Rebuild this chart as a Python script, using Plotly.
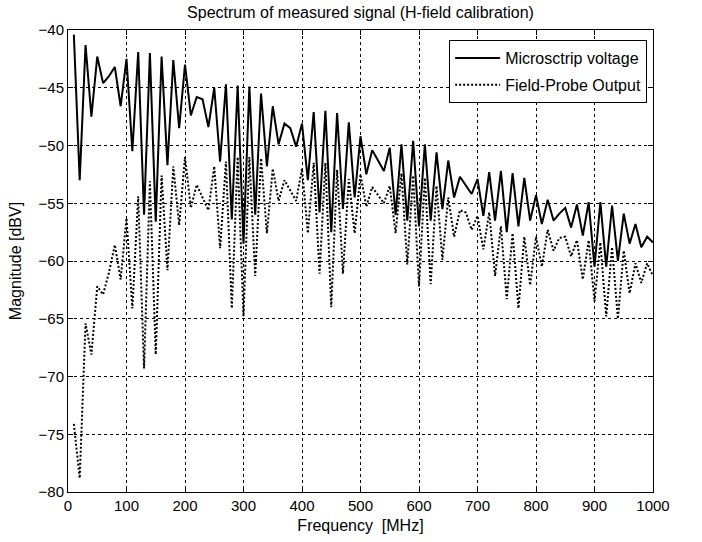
import plotly.graph_objects as go

# Frequency axis (MHz), one sample every 10 MHz
freq_mhz = list(range(10, 1001, 10))

# Microstrip voltage spectrum [dBV]
microstrip_dbv = [
    -40.4, -53.0, -41.3, -47.5, -42.3, -44.6, -44.0, -43.2, -46.6, -42.5,
    -50.5, -41.9, -56.0, -42.0, -56.6, -42.3, -51.7, -42.6, -48.5, -43.0,
    -47.4, -45.8, -46.0, -48.4, -45.0, -51.4, -44.7, -56.4, -44.8, -58.5,
    -44.9, -56.0, -45.5, -51.8, -46.6, -49.9, -48.1, -48.5, -50.1, -48.1,
    -53.0, -47.1, -55.8, -47.0, -57.5, -47.2, -55.5, -48.0, -54.5, -49.2,
    -52.5, -50.4, -51.3, -52.2, -50.2, -56.0, -49.9, -56.5, -49.6, -57.0,
    -49.9, -56.5, -50.6, -55.5, -51.3, -54.5, -52.7, -53.5, -54.2, -52.9,
    -56.1, -52.3, -56.5, -52.2, -57.5, -52.4, -57.0, -52.8, -56.5, -54.3,
    -56.8, -54.7, -56.5, -55.9, -55.4, -57.1, -55.1, -57.8, -54.9, -60.5,
    -54.9, -60.5, -55.2, -60.0, -55.9, -58.5, -56.8, -58.8, -57.9, -58.4,
]

# Field-probe output spectrum [dBV]
probe_dbv = [
    -74.1, -78.8, -65.4, -68.1, -62.2, -62.9, -61.0, -58.6, -61.6, -56.3,
    -64.1, -54.4, -69.3, -53.1, -68.1, -52.6, -60.8, -51.8, -56.9, -51.0,
    -55.4, -53.4, -54.5, -55.6, -51.8, -58.9, -51.4, -64.1, -51.0, -64.8,
    -51.0, -61.3, -51.1, -57.6, -52.0, -54.8, -53.0, -53.9, -54.8, -52.0,
    -57.6, -51.5, -61.1, -51.5, -64.0, -52.1, -61.1, -52.9, -57.6, -52.5,
    -55.3, -53.6, -54.3, -55.0, -53.5, -57.6, -52.4, -60.3, -52.6, -62.2,
    -52.8, -62.0, -53.5, -59.9, -54.5, -57.9, -55.6, -55.8, -57.3, -56.1,
    -59.0, -55.8, -61.3, -57.0, -63.3, -57.6, -64.1, -57.9, -62.1, -57.9,
    -60.5, -57.3, -59.1, -58.0, -57.9, -59.6, -58.2, -61.6, -58.2, -63.5,
    -58.4, -64.8, -58.8, -65.0, -59.1, -62.8, -60.2, -61.9, -60.2, -61.3,
]

FONT = "Liberation Sans, Arial, sans-serif"
TXT = dict(family=FONT, size=16, color="black")

fig = go.Figure()
fig.add_trace(go.Scatter(x=freq_mhz, y=microstrip_dbv, mode="lines",
                         name="Microsctrip voltage", legendgroup="a",
                         line=dict(color="black", width=2)))
fig.add_trace(go.Scatter(x=freq_mhz, y=probe_dbv, mode="lines",
                         name="Field-Probe Output", legendgroup="b",
                         line=dict(color="black", width=2, dash="2px,2px")))

axis_style = dict(showline=True, linecolor="black", linewidth=1, mirror="ticks",
                  ticks="inside", ticklen=5, tickcolor="black",
                  showgrid=True, gridcolor="black", gridwidth=1, griddash="3px,3px",
                  zeroline=False, automargin=False,
                  tickfont=dict(family=FONT, size=15, color="black"))

fig.update_xaxes(range=[0, 1000], dtick=100, tick0=0,
                 title=dict(text="Frequency  [MHz]", standoff=6, font=TXT),
                 **axis_style)
fig.update_yaxes(range=[-80, -40], dtick=5, tick0=-80,
                 title=dict(text="Magnitude [dBV]", standoff=12, font=TXT),
                 **axis_style)

fig.update_layout(
    width=702, height=542,
    margin=dict(l=68, r=49, t=30, b=50),
    paper_bgcolor="white", plot_bgcolor="white",
    font=TXT,
    title=dict(text="Spectrum of measured signal (H-field calibration)",
               x=0.5, xref="paper", y=0.978, yref="container", yanchor="middle",
               font=TXT),
    legend=dict(x=0.99, y=0.978, xanchor="right", yanchor="top",
                bordercolor="black", borderwidth=1, bgcolor="white",
                font=TXT, tracegroupgap=3, itemwidth=45),
    showlegend=True,
)

# drop the browser's default body margin so the figure sits at the page origin
fig.write_html("out.html", config={"displayModeBar": False},
               post_script="document.body.style.margin='0';")
